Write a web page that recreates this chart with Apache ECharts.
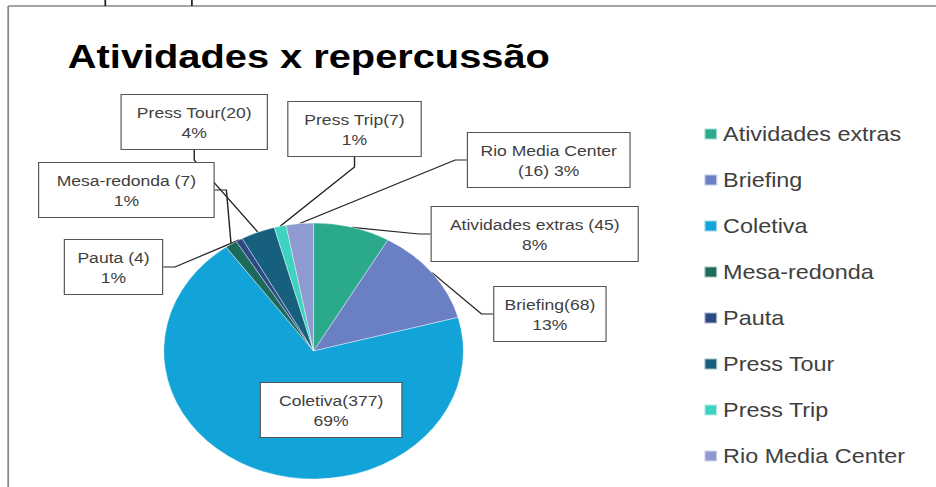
<!DOCTYPE html>
<html>
<head>
<meta charset="utf-8">
<script src="https://cdn.jsdelivr.net/npm/echarts@6/dist/echarts.min.js"></script>
<style>
  html, body { margin: 0; padding: 0; background: #fff; overflow: hidden; }
  /* o gráfico original está esticado na horizontal */
  #main { width: 800px; height: 487px; transform: scaleX(1.17); transform-origin: 0 0; }
</style>
</head>
<body>
<div id="main"></div>
<script>
// dados do gráfico
var categories = ['Atividades extras', 'Briefing', 'Coletiva', 'Mesa-redonda', 'Pauta', 'Press Tour', 'Press Trip', 'Rio Media Center'];
var values = [45, 68, 377, 7, 4, 20, 7, 16];
var labelFormats = [
    'Atividades extras ({v})\n{p}%',
    'Briefing({v})\n{p}%',
    'Coletiva({v})\n{p}%',
    'Mesa-redonda ({v})\n{p}%',
    'Pauta ({v})\n{p}%',
    'Press Tour({v})\n{p}%',
    'Press Trip({v})\n{p}%',
    'Rio Media Center\n({v}) {p}%'
];
var colors = ['#2aaa8b', '#6b7fc4', '#12a4d8', '#1b6a5c', '#2d4a86', '#17607d', '#3ed3c1', '#8e9ad0'];

// posição e largura das caixas de rótulo (coordenadas do gráfico)
var labelCenters = [[457, 234], [470, 314], [283, 410], [108, 190], [97, 267], [166, 122], [303, 129], [469, 160]];
var boxWidths = [178, 97, 122, 151, 85, 126, 115, 140];

var myChart = echarts.init(document.getElementById('main'), null, { renderer: 'svg' });

var pieData = [];
for (var i = 0; i < categories.length; i++) {
    pieData.push({
        name: categories[i],
        value: values[i],
        label: { width: boxWidths[i] - 2 },
        labelLine: { show: i !== 2 }
    });
}

var option = {
    color: colors,
    animation: false,
    title: {
        text: 'Atividades x repercussão',
        left: 53,
        top: 35,
        textStyle: {
            fontFamily: '"Liberation Sans", Arial, sans-serif',
            fontSize: 34,
            fontWeight: 'bold',
            color: '#000'
        }
    },
    legend: {
        orient: 'vertical',
        left: 596,
        top: 119,
        icon: 'rect',
        itemWidth: 11,
        itemHeight: 11,
        itemGap: 26,
        textStyle: {
            fontFamily: '"Liberation Sans", Arial, sans-serif',
            fontSize: 20,
            color: '#404040'
        },
        data: categories
    },
    graphic: [
        { type: 'line', shape: { x1: 7, y1: 6, x2: 800, y2: 6 }, style: { stroke: '#888', lineWidth: 1.5 } },
        { type: 'line', shape: { x1: 7, y1: 6, x2: 7, y2: 487 }, style: { stroke: '#888', lineWidth: 1.5 } },
        { type: 'line', shape: { x1: 90, y1: 0, x2: 90, y2: 6 }, style: { stroke: '#222', lineWidth: 1.5 } },
        { type: 'line', shape: { x1: 164, y1: 0, x2: 164, y2: 6 }, style: { stroke: '#222', lineWidth: 1.5 } }
    ],
    series: [
        {
            type: 'pie',
            center: [268, 351],
            radius: 128,
            startAngle: 90,
            clockwise: true,
            avoidLabelOverlap: false,
            itemStyle: { borderColor: 'rgba(255,255,255,0.6)', borderWidth: 0.6 },
            label: {
                show: true,
                position: 'outside',
                formatter: function (p) {
                    return labelFormats[p.dataIndex]
                        .replace('{v}', p.value)
                        .replace('{p}', Math.round(p.percent));
                },
                fontFamily: '"Liberation Sans", Arial, sans-serif',
                fontSize: 15,
                lineHeight: 20,
                color: '#404040',
                align: 'center',
                backgroundColor: '#fff',
                borderColor: '#555',
                borderWidth: 1,
                padding: [7, 0]
            },
            labelLine: {
                show: true,
                length: 10,
                length2: 10,
                lineStyle: { color: '#222', width: 1.2 }
            },
            labelLayout: function (params) {
                var c = labelCenters[params.dataIndex];
                return { x: c[0], y: c[1], align: 'center', verticalAlign: 'middle' };
            },
            data: pieData
        }
    ]
};
myChart.setOption(option);
</script>
</body>
</html>
